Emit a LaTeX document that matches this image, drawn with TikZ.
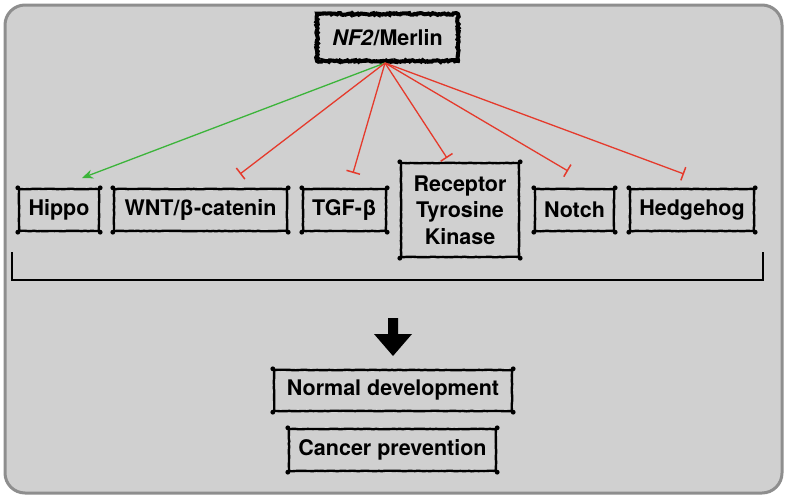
\documentclass[tikz,border=0pt]{standalone}
\usepackage{fontspec}
\setmainfont{TeX Gyre Heros}
\usetikzlibrary{arrows.meta,decorations.pathmorphing}
\definecolor{bgfill}{HTML}{D0D0D0}
\definecolor{bgline}{HTML}{8E8E8E}
\definecolor{inhred}{HTML}{E53A2C}
\definecolor{actgreen}{HTML}{3CB43A}
\begin{document}
\begin{tikzpicture}[x=1pt,y=-1pt,
  every node/.style={font=\fontsize{21.5}{26.5}\selectfont\bfseries, inner sep=0pt, align=center},
  rbox/.style={draw=black, line width=2.4pt, decorate, decoration={random steps, segment length=3pt, amplitude=0.3pt}},
  hbox/.style={draw=black, line width=4pt, decorate, decoration={random steps, segment length=1.5pt, amplitude=0.9pt}},
  inh/.style={draw=inhred, line width=1.3pt, -{Bar[width=14pt,line width=1.5pt]}},
  act/.style={draw=actgreen, line width=1.3pt, -{Stealth[length=11pt,width=9pt]}},
  bracketline/.style={line width=1.3pt, draw=black}]
\useasboundingbox (0,0) rectangle (787,498);
\draw[fill=bgfill, draw=bgline, line width=3pt, rounded corners=20pt] (5,5) rectangle (782,493);

\node[hbox, minimum width=141pt, minimum height=47pt] (nf2) at (387.5,37.5) {\textit{NF2}/Merlin};

\node[rbox, minimum width=80pt, minimum height=42pt] (hippo) at (59,210) {Hippo};
\node[rbox, minimum width=173pt, minimum height=42pt] (wnt) at (200.5,210) {WNT/β-catenin};
\node[rbox, minimum width=83pt, minimum height=42pt] (tgf) at (344.5,210) {TGF-β};
\node[rbox, minimum width=118pt, minimum height=94pt] (rtk) at (460,210) {Receptor\\Tyrosine\\Kinase};
\node[rbox, minimum width=79pt, minimum height=42pt] (notch) at (574.5,210) {Notch};
\node[rbox, minimum width=124pt, minimum height=42pt] (hedge) at (692,210) {Hedgehog};

\node[rbox, minimum width=238pt, minimum height=41pt] (normal) at (393,390.5) {Normal development};
\node[rbox, minimum width=207pt, minimum height=42pt] (cancer) at (392.5,450) {Cancer prevention};

\foreach \n in {hippo,wnt,tgf,rtk,notch,hedge,normal,cancer}
  \foreach \c in {north west,north east,south west,south east}
    \fill (\n.\c) circle (2.4pt);

\coordinate (src) at (385,63);
\coordinate (tHippo) at (82,178);
\coordinate (tWnt) at (240,174);
\coordinate (tTgf) at (353,173);
\coordinate (tRtk) at (447,158);
\coordinate (tNotch) at (568,171);
\coordinate (tHedge) at (684,174);

\draw[act] (src) -- (tHippo);
\draw[inh] (src) -- (tWnt);
\draw[inh] (src) -- (tTgf);
\draw[inh] (src) -- (tRtk);
\draw[inh] (src) -- (tNotch);
\draw[inh] (src) -- (tHedge);

\coordinate (bl) at (12,252);
\coordinate (br) at (763,252);
\draw[bracketline] (bl) -- (12,280) -- (763,280) -- (br);

\fill (388,318) -- (398,318) -- (398,334) -- (412,334) -- (393,356) -- (374,334) -- (388,334) -- cycle;
\end{tikzpicture}
\end{document}
